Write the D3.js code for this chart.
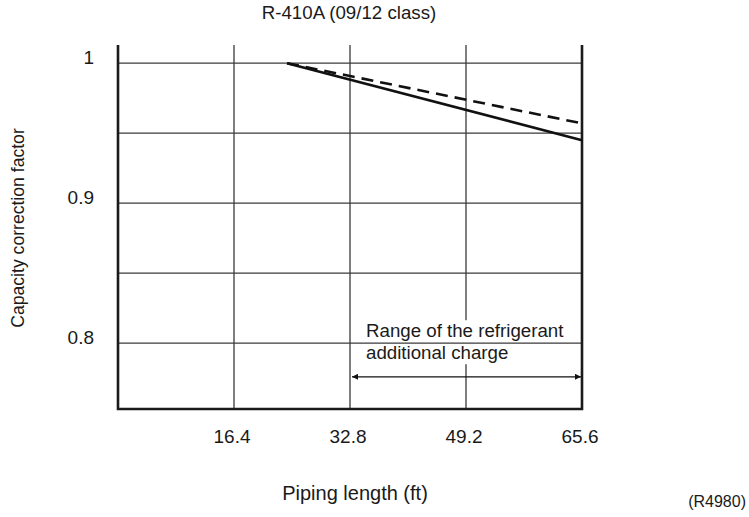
<!DOCTYPE html>
<html>
<head>
<meta charset="utf-8">
<script src="https://cdn.jsdelivr.net/npm/d3@7"></script>
<style>
  body { margin: 0; background: #fff; }
  svg { display: block; font-family: "Liberation Sans", Arial, Helvetica, sans-serif; }
  .grid { stroke: #3a3a3a; stroke-width: 1.3; }
  .frame { stroke: #1a1a1a; stroke-width: 2.6; fill: none; }
  .lbl { fill: #1a1a1a; font-size: 18.7px; }
</style>
</head>
<body>
<svg id="chart" width="749" height="517"></svg>
<script>
// chart data
var xTicks = [16.4, 32.8, 49.2, 65.6];
var yGrid = [0.8, 0.85, 0.9, 0.95, 1];
var yLabels = [0.8, 0.9, 1];
var solidLine = [[23.9, 1.0], [65.6, 0.945]];
var dashedLine = [[23.9, 1.0], [65.6, 0.957]];
var rangeFrom = 32.8, rangeTo = 65.6, rangeLevel = 0.776;
var rangeText = ["Range of the refrigerant", "additional charge"];

var svg = d3.select("#chart");

var x = d3.scaleLinear().domain([0, 65.6]).range([118, 582]);
var y = d3.scaleLinear().domain([0.753, 1.013]).range([409, 45]);

/* vertical grid lines */
svg.selectAll(".vgrid").data(xTicks.slice(0, 3)).enter().append("line")
    .attr("class", "grid")
    .attr("x1", d => x(d)).attr("x2", d => x(d))
    .attr("y1", y.range()[1]).attr("y2", y.range()[0]);

// white box behind the range text (it hides the 49.2 line)
svg.append("rect")
    .attr("x", x(rangeFrom) + 14).attr("y", y(0.8) - 23)
    .attr("width", 210).attr("height", 44)
    .attr("fill", "#fff");

/* horizontal grid lines */
svg.selectAll(".hgrid").data(yGrid).enter().append("line")
    .attr("class", "grid")
    .attr("x1", x(0)).attr("x2", x(65.6))
    .attr("y1", d => y(d)).attr("y2", d => y(d));

// left, bottom, right frame
svg.append("path")
    .attr("class", "frame")
    .attr("d", d3.line()([[x(0), y.range()[1]], [x(0), y.range()[0]], [x(65.6), y.range()[0]], [x(65.6), y.range()[1]]]));

var line = d3.line().x(d => x(d[0])).y(d => y(d[1]));
svg.append("path").datum(dashedLine)
    .attr("d", line).attr("fill", "none")
    .attr("stroke", "#111").attr("stroke-width", 2.6)
    .attr("stroke-dasharray", "12,7");
svg.append("path").datum(solidLine)
    .attr("d", line).attr("fill", "none")
    .attr("stroke", "#111").attr("stroke-width", 2.6);

/* range arrow */
svg.append("defs").append("marker")
    .attr("id", "head").attr("viewBox", "0 0 10 10")
    .attr("refX", 10).attr("refY", 5)
    .attr("markerWidth", 9).attr("markerHeight", 6)
    .attr("markerUnits", "userSpaceOnUse")
    .attr("orient", "auto-start-reverse")
    .append("path").attr("d", "M0,0L10,5L0,10Z").attr("fill", "#111");
svg.append("line")
    .attr("x1", x(rangeFrom) + 2).attr("x2", x(rangeTo) - 1)
    .attr("y1", y(rangeLevel)).attr("y2", y(rangeLevel))
    .attr("stroke", "#111").attr("stroke-width", 1.3)
    .attr("marker-start", "url(#head)").attr("marker-end", "url(#head)");

svg.selectAll(".rtext").data(rangeText).enter().append("text")
    .attr("class", "lbl")
    .attr("x", x(rangeFrom) + 16)
    .attr("y", (d, i) => y(0.8) - 6 + i * 21.5)
    .text(d => d);

/* tick labels */
svg.selectAll(".xlab").data(xTicks).enter().append("text")
    .attr("class", "lbl").attr("text-anchor", "middle")
    .style("font-size", "19px")
    .attr("x", d => x(d) - 2).attr("y", 443)
    .text(d => d3.format(".1f")(d));
svg.selectAll(".ylab").data(yLabels).enter().append("text")
    .attr("class", "lbl").attr("text-anchor", "end")
    .style("font-size", "19px")
    .attr("x", 94).attr("y", d => y(d) + 1)
    .text(d => d === 1 ? "1" : d3.format(".1f")(d));

/* titles */
svg.append("text").attr("class", "lbl").attr("text-anchor", "middle")
    .attr("x", 349).attr("y", 19).text("R-410A (09/12 class)");
svg.append("text").attr("class", "lbl").attr("text-anchor", "middle")
    .style("font-size", "20px")
    .attr("x", 355).attr("y", 500).text("Piping length (ft)");
svg.append("text").attr("class", "lbl").attr("text-anchor", "middle")
    .style("font-size", "17.6px")
    .attr("transform", "translate(24,228) rotate(-90)")
    .text("Capacity correction factor");
svg.append("text").attr("class", "lbl").attr("text-anchor", "end")
    .style("font-size", "16px")
    .attr("x", 746).attr("y", 507).text("(R4980)");
</script>
</body>
</html>
